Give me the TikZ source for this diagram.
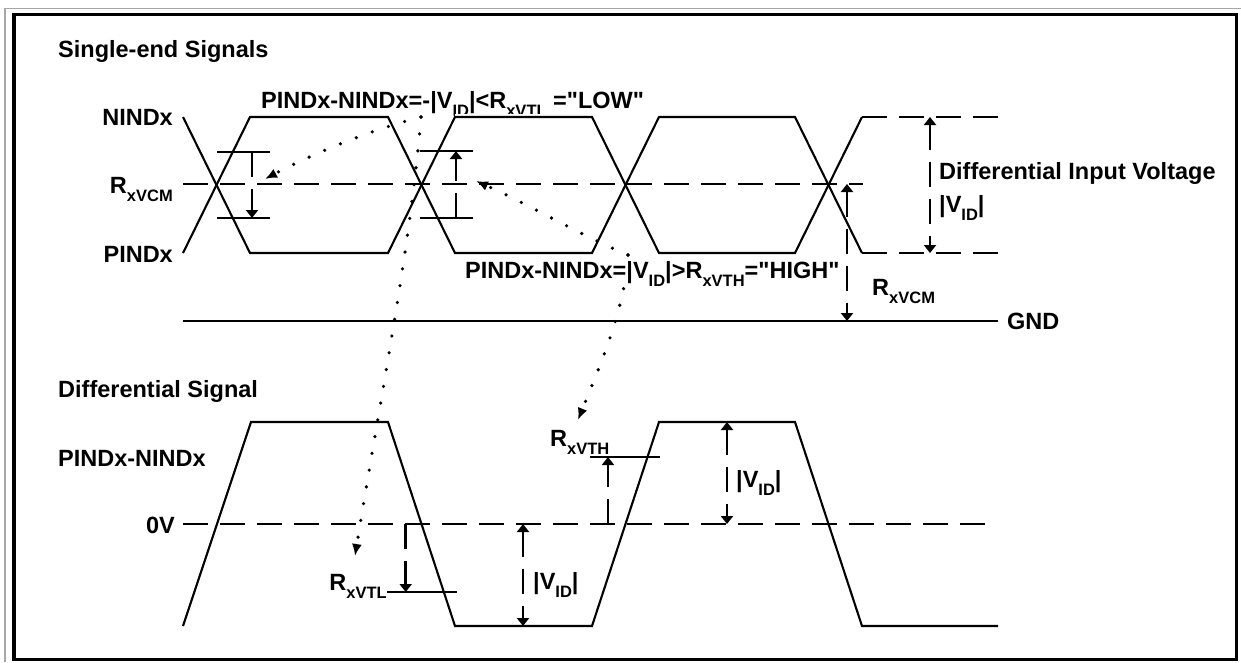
\documentclass[tikz,border=0pt]{standalone}
\usepackage{fontspec}
\setmainfont{Liberation Sans}[Ligatures=TeXOff]
\usetikzlibrary{arrows.meta}
\newcommand\lab{\fontsize{23.5}{28}\selectfont\bfseries}
\newcommand\sbx[1]{\raisebox{-8pt}{\fontsize{16.5}{18}\selectfont\bfseries #1}}
\begin{document}
\begin{tikzpicture}[x=1pt,y=-1pt,
  sig/.style={line width=2.1pt, line join=miter},
  dsh/.style={line width=2.7pt, dash pattern=on 25pt off 12pt},
  meas/.style={line width=2.5pt, dash pattern=on 25pt off 12pt},
  bar/.style={line width=2.3pt},
  tipd/.style={-{Triangle[length=8pt,width=12pt]}},
  tipb/.style={{Triangle[length=8pt,width=12pt]}-{Triangle[length=8pt,width=12pt]}},
  dotl/.style={line width=3.6pt, line cap=round, dash pattern=on 0pt off 17pt, -{Latex[length=12pt,width=10pt]}},
  lbl/.style={font=\lab, inner sep=0pt, anchor=base west},
  lblr/.style={font=\lab, inner sep=0pt, anchor=base east}]
\useasboundingbox (0,0) rectangle (1241,662);
% frame
\draw[gray!70, line width=1.5pt] (5,662) -- (5,8.5) -- (1241,8.5);
\draw[line width=3.5pt] (14,14.7) rectangle (1236.3,659.5);

% ---------- headings and labels (top) ----------
\node[lbl] (hsingle) at (58,57) {Single-end Signals};
\node[lblr] (lnind) at (173,125) {NINDx};
\node[lblr] (lvcm) at (173,193) {R\sbx{xVCM}};
\node[lblr] (lpind) at (173,262) {PINDx};
\node[lbl] (llow) at (261,108) {PINDx-NINDx=-|V\sbx{ID}|<R\sbx{xVTL} ="LOW"};
\fill[white] (455,113.5) rectangle (592,128);

% ---------- top waveforms ----------
\coordinate (a0) at (183,117); \coordinate (a1) at (250,253);
\coordinate (a2) at (388,253); \coordinate (a3) at (455,117);
\coordinate (a4) at (592,117); \coordinate (a5) at (659,253);
\coordinate (a6) at (795,253); \coordinate (a7) at (862,117);
\coordinate (b0) at (183,253); \coordinate (b1) at (250,117);
\coordinate (b2) at (388,117); \coordinate (b3) at (455,253);
\coordinate (b4) at (592,253); \coordinate (b5) at (659,117);
\coordinate (b6) at (795,117); \coordinate (b7) at (862,253);
\coordinate (te) at (998,117); \coordinate (be) at (998,253);
\draw[sig] (a0) -- (a1) -- (a2) -- (a3) -- (a4) -- (a5) -- (a6) -- (a7);
\draw[sig] (b0) -- (b1) -- (b2) -- (b3) -- (b4) -- (b5) -- (b6) -- (b7);
\draw[dsh] (a7) -- (te);
\draw[dsh] (b7) -- (be);
\coordinate (m0) at (183,184); \coordinate (m1) at (863,184);
\draw[dsh] (m0) -- (m1);
\coordinate (g0) at (183,321); \coordinate (g1) at (998,321);
\draw[sig] (g0) -- (g1);
\node[lbl] (lgnd) at (1007,329) {GND};

% measurement bars at crossings
\coordinate (c1t0) at (217,152); \coordinate (c1t1) at (270,152);
\coordinate (c1b0) at (217,218); \coordinate (c1b1) at (270,218);
\draw[bar] (c1t0) -- (c1t1); \draw[bar] (c1b0) -- (c1b1);
\coordinate (c1u) at (252,152); \coordinate (c1d) at (252,218);
\draw[meas, tipd] (c1u) -- (c1d);
\coordinate (c2t0) at (420,151); \coordinate (c2t1) at (473,151);
\coordinate (c2b0) at (420,218); \coordinate (c2b1) at (473,218);
\draw[bar] (c2t0) -- (c2t1); \draw[bar] (c2b0) -- (c2b1);
\coordinate (c2u) at (456,151); \coordinate (c2d) at (456,218);
\draw[meas, tipd] (c2d) -- (c2u);

% right annotations
\coordinate (dv0) at (930,117); \coordinate (dv1) at (930,253);
\draw[meas, tipb] (dv0) -- (dv1);
\node[lbl] (ldiv) at (939,179) {Differential Input Voltage};
\node[lbl] (ldiv2) at (939,212) {|V\sbx{ID}|};
\coordinate (cm0) at (847,184); \coordinate (cm1) at (847,321);
\draw[meas, tipb] (cm0) -- (cm1);
\node[lbl] (lvcm2) at (872,295) {R\sbx{xVCM}};

% ---------- bottom ----------
\node[lbl] (hdiff) at (58,397) {Differential Signal};
\node[lbl] (ldiffs) at (58,466) {PINDx-NINDx};
\node[lblr] (l0v) at (175,533) {0V};
\coordinate (z0) at (183,524); \coordinate (z1) at (995,524);
\draw[dsh] (z0) -- (z1);
\coordinate (d0) at (183,626); \coordinate (d1) at (251,422);
\coordinate (d2) at (388,422); \coordinate (d3) at (455,626);
\coordinate (d4) at (592,626); \coordinate (d5) at (659,422);
\coordinate (d6) at (795,422); \coordinate (d7) at (862,626);
\coordinate (d8) at (998,626);
\draw[sig] (d0) -- (d1) -- (d2) -- (d3) -- (d4) -- (d5) -- (d6) -- (d7) -- (d8);

% RxVTL
\coordinate (vl0) at (387,592); \coordinate (vl1) at (457,592);
\draw[bar] (vl0) -- (vl1);
\coordinate (vla) at (405.7,524); \coordinate (vlb) at (405.7,592);
\draw[meas, tipd] (vla) -- (vlb);
\node[lblr] (lvtl) at (387,590) {R\sbx{xVTL}};
% RxVTH
\coordinate (vh0) at (590,457); \coordinate (vh1) at (660,457);
\draw[bar] (vh0) -- (vh1);
\coordinate (vha) at (608,524); \coordinate (vhb) at (608,457);
\draw[meas, tipd] (vha) -- (vhb);
\node[lbl] (lvth) at (550,446) {R\sbx{xVTH}};
% |VID| arrows
\coordinate (va0) at (523,524); \coordinate (va1) at (523,626);
\draw[meas, tipb] (va0) -- (va1);
\node[lbl] (lvid1) at (533,589) {|V\sbx{ID}|};
\coordinate (vb0) at (727,422); \coordinate (vb1) at (727,524);
\draw[meas, tipb] (vb0) -- (vb1);
\node[lbl] (lvid2) at (736,487) {|V\sbx{ID}|};

% ---------- dotted pointers ----------
\coordinate (srcl) at (421,117);
\coordinate (tgl1) at (265,179);
\coordinate (tgl2) at (355,556);
\draw[dotl] (srcl) .. controls (370,130) and (310,155) .. (tgl1);
\draw[dotl] (srcl) .. controls (410,250) and (380,400) .. (tgl2);
\coordinate (srch) at (628,255);
\coordinate (tgh1) at (476,181);
\coordinate (tgh2) at (578,420);
\draw[dotl] (srch) .. controls (580,235) and (530,205) .. (tgh1);
\draw[dotl] (srch) .. controls (625,310) and (598,370) .. (tgh2);
\node[lbl, fill=white, inner ysep=1pt] (lhigh) at (465,278) {PINDx-NINDx=|V\sbx{ID}|>R\sbx{xVTH}="HIGH"};
\end{tikzpicture}
\end{document}
